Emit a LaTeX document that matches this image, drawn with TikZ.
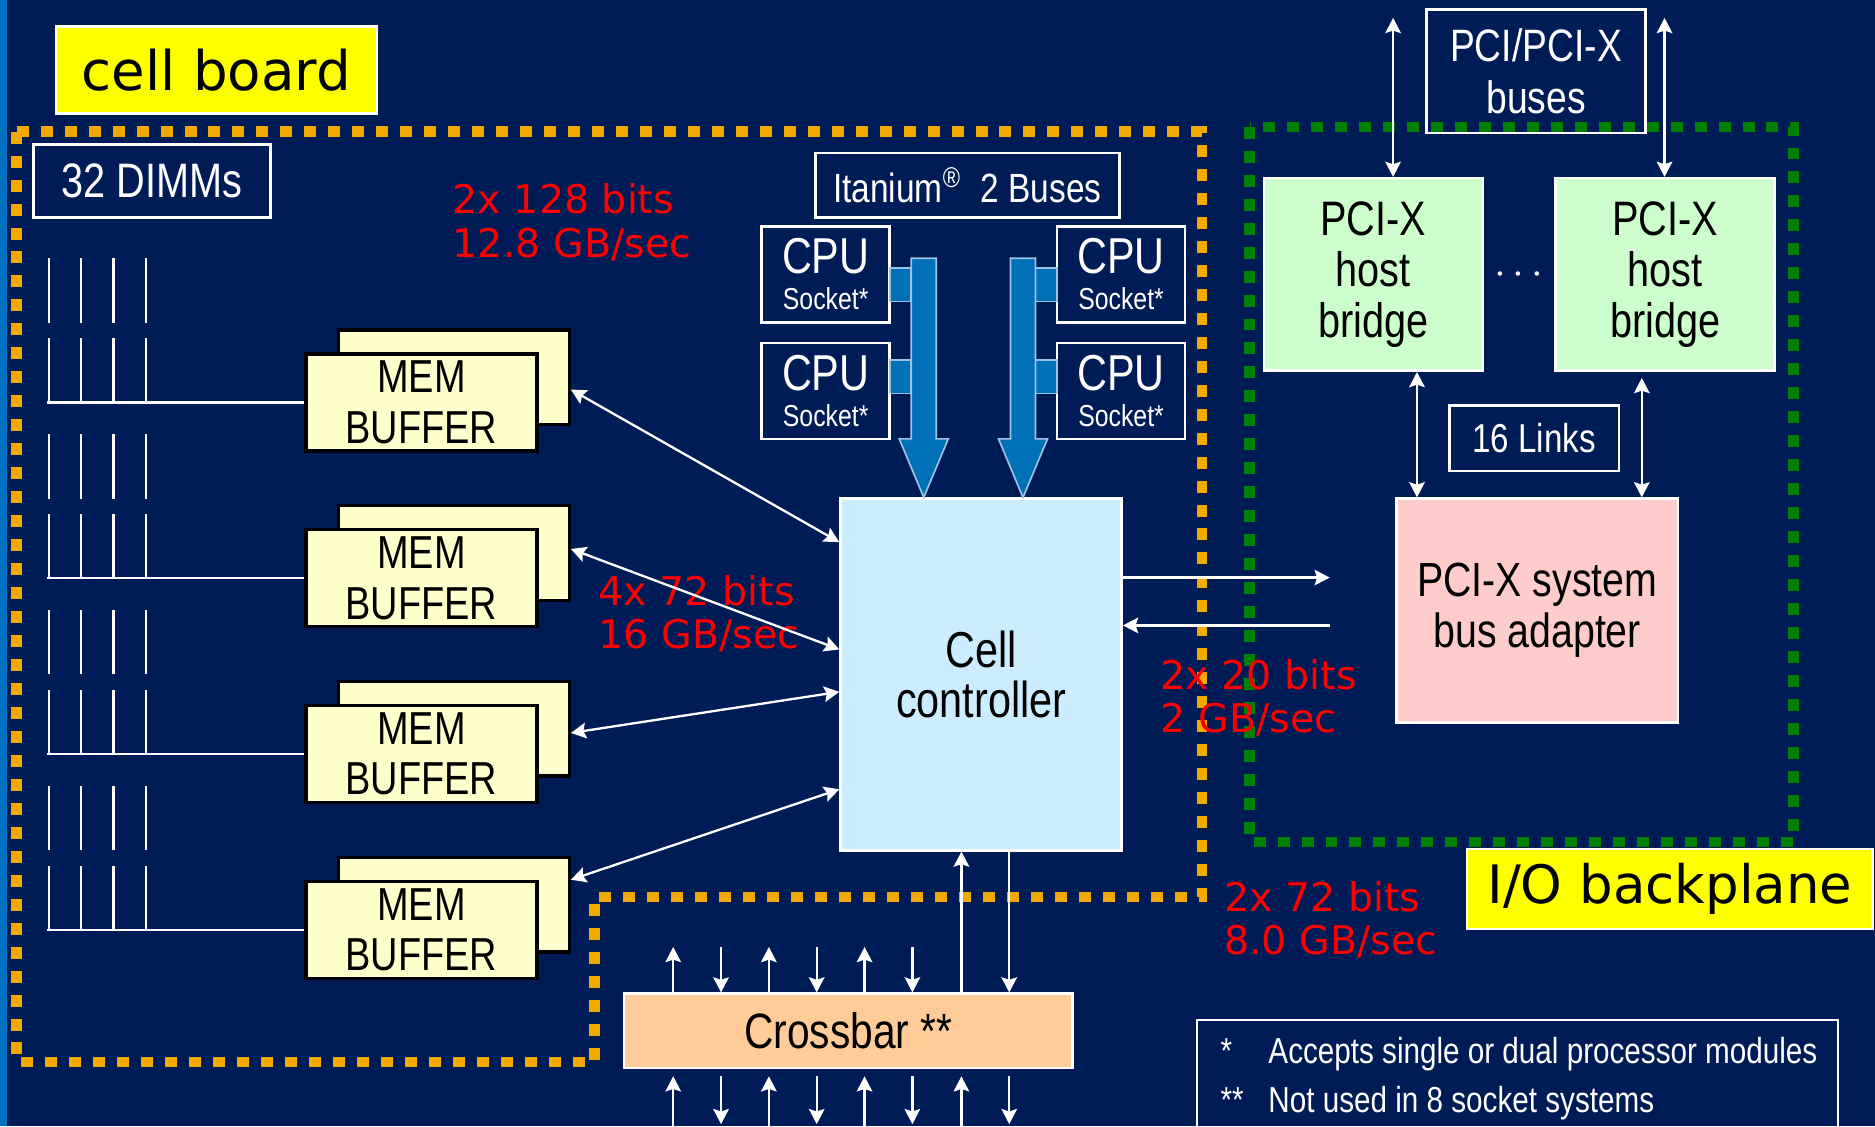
\documentclass[tikz,border=0pt]{standalone}
\usepackage{fontspec}
\setmainfont{Liberation Sans}[FakeStretch=0.82]
\newfontfamily\widefont{DejaVu Sans}
\usetikzlibrary{arrows.meta,calc}
\definecolor{navy}{HTML}{001C56}
\definecolor{stripe}{HTML}{0070C0}
\definecolor{bdorange}{HTML}{F2A900}
\definecolor{bdgreen}{HTML}{008000}
\definecolor{tagyellow}{HTML}{FFFF00}
\definecolor{memfill}{HTML}{FFFFCC}
\definecolor{ccfill}{HTML}{CCECFF}
\definecolor{hbfill}{HTML}{CCFFCC}
\definecolor{adfill}{HTML}{FFCCCC}
\definecolor{cbfill}{HTML}{FFCC99}
\definecolor{ratered}{HTML}{FF0000}
\definecolor{busblue}{HTML}{0070B8}
\definecolor{buslight}{HTML}{9CC3E5}
\newcommand{\setfs}[2]{\fontsize{#1}{#2}\selectfont}

\begin{document}
\begin{tikzpicture}[x=0.01cm,y=-0.01cm,
    lbl/.style={draw=white,line width=0.6pt,text=white,align=center,inner sep=0pt},
    tag/.style={draw=white,line width=0.6pt,fill=tagyellow,text=black,inner sep=0pt},
    cpu/.style={lbl,minimum width=1.07cm,minimum height=0.80cm,font=\setfs{12}{8.6}},
    memb/.style={draw=black,line width=0.8pt,fill=memfill,minimum width=1.93cm,
                 inner sep=0pt,align=center,font=\setfs{11}{12}},
    blk/.style={draw=white,line width=0.6pt,text=black,align=center,inner sep=0pt},
    rate/.style={text=ratered,align=left,anchor=west,inner sep=0pt,font=\widefont\setfs{9.4}{10.3}},
    orbound/.style={draw=bdorange,line width=2.5pt,dash pattern=on 2.85pt off 2.85pt},
    grbound/.style={draw=bdgreen,line width=2.5pt,dash pattern=on 2.85pt off 2.85pt},
    warr/.style={-{Stealth[length=3.6pt,width=3.7pt,inset=0.6pt]},white,line width=0.55pt},
    dwarr/.style={{Stealth[length=3.6pt,width=3.7pt,inset=0.6pt]}-{Stealth[length=3.6pt,width=3.7pt,inset=0.6pt]},
                  white,line width=0.55pt},
    wire/.style={white,line width=0.55pt},
    bus/.style={fill=busblue,draw=buslight,line width=0.4pt}]
  \useasboundingbox (0,0) rectangle (1568,942);
  \fill[navy] (0,0) rectangle (1568,942);
  \fill[stripe] (0,0) rectangle (6,942);
  % board outlines
  \draw[orbound] (14,110) -- (1005,110) -- (1005,750) -- (497,750) -- (497,888) -- (14,888) -- cycle;
  \draw[grbound] (1045,106) rectangle (1500,704);
  % labels
  \node[tag,minimum width=2.68cm,minimum height=0.73cm,font=\widefont\setfs{13}{15}] (cellb) at (181,58.5) {cell board};
  \node[tag,minimum width=3.39cm,minimum height=0.67cm,font=\widefont\setfs{12.6}{15}] (iobp) at (1396.5,743.5) {I/O backplane};
  \node[lbl,minimum width=1.98cm,minimum height=0.61cm,font=\setfs{11.5}{13}] (dimms) at (127,151.5) {32 DIMMs};
  \node[lbl,minimum width=2.54cm,minimum height=0.54cm,font=\setfs{9.7}{11}] (itan) at (809,155)
    {Itanium\textsuperscript{®}\ \ 2 Buses};
  \node[lbl,minimum width=1.83cm,minimum height=1.03cm,font=\setfs{10.8}{12.5}] (pcib) at (1284.5,59.5) {PCI/PCI-X\\buses};
  \node[lbl,minimum width=1.42cm,minimum height=0.55cm,font=\setfs{9.6}{11}] (links) at (1283,366.5) {16 Links};
  % memory side
  \foreach \i/\y in {1/0,2/147,3/294,4/441} {
    \foreach \x in {41,68,95,122} {
      \draw[wire] (\x,216+\y) -- (\x,270+\y);
      \draw[wire] (\x,283+\y) -- (\x,337+\y);
    }
    \node[memb,minimum height=0.79cm] (mb\i) at (379.5,315.5+\y) {};
    \node[memb,minimum height=0.81cm] (mf\i) at (352.5,336.5+\y) {MEM\\BUFFER};
    \draw[wire] (mf\i.west) -- ++(-215.5,0);
  }
  % processors
  \node[cpu] (cpu1) at (690.5,229.5) {CPU\\{\setfs{7.2}{8.6}Socket*}};
  \node[cpu] (cpu2) at (690.5,327) {CPU\\{\setfs{7.2}{8.6}Socket*}};
  \node[cpu] (cpu3) at (937.5,229.5) {CPU\\{\setfs{7.2}{8.6}Socket*}};
  \node[cpu] (cpu4) at (937.5,327) {CPU\\{\setfs{7.2}{8.6}Socket*}};
  \node[blk,fill=ccfill,minimum width=2.35cm,minimum height=2.94cm,font=\setfs{12}{11.7}] (cc) at (820.5,564) {Cell\\controller};
  \draw[bus] (744,224) rectangle (762,252);
  \draw[bus] (744,301) rectangle (762,329);
  \draw[bus] (866,224) rectangle (884,252);
  \draw[bus] (866,301) rectangle (884,329);
  \foreach \c in {772.5,855.5}
    \draw[bus] (\c-10.5,216) -- (\c+10.5,216) -- (\c+10.5,367) -- (\c+20.5,367) -- (\c,416)
      -- (\c-20.5,367) -- (\c-10.5,367) -- cycle;
  % I/O side
  \node[blk,fill=hbfill,minimum width=1.83cm,minimum height=1.61cm,font=\setfs{11.5}{12.2}] (hb1) at (1148.5,229.5) {PCI-X\\host\\bridge};
  \node[blk,fill=hbfill,minimum width=1.83cm,minimum height=1.61cm,font=\setfs{11.5}{12.2}] (hb2) at (1392.5,229.5) {PCI-X\\host\\bridge};
  \node[text=white] (dots) at (1270,230) {$\cdots$};
  \node[blk,fill=adfill,minimum width=2.35cm,minimum height=1.87cm,font=\setfs{11.4}{12.2}] (ad) at (1285.5,510.5) {PCI-X system\\bus adapter};
  \node[blk,fill=cbfill,minimum width=3.75cm,minimum height=0.62cm,font=\setfs{11.8}{13}] (cb) at (709.5,862) {Crossbar **};
  \node[draw=white,line width=0.6pt,minimum width=5.36cm,minimum height=1.1cm] (notes) at (1269,908) {};
  \node[anchor=base west,text=white,inner sep=0pt,font=\setfs{8.6}{10}] (note1) at (1020,889)
    {\makebox[11.4pt][l]{*}Accepts single or dual processor modules};
  \node[anchor=base west,text=white,inner sep=0pt,font=\setfs{8.6}{10}] (note2) at (1020,930)
    {\makebox[11.4pt][l]{**}Not used in 8 socket systems};
  % rates
  \node[rate] (r1) at (378,186) {2x 128 bits\\12.8 GB/sec};
  \node[rate] (r2) at (500,513.5) {4x 72 bits\\16 GB/sec};
  \node[rate] (r3) at (970,583.5) {2x 20 bits\\2 GB/sec};
  \node[rate] (r4) at (1023,769) {2x 72 bits\\8.0 GB/sec};
  % links
  \draw[dwarr] (mb1.-6) -- (cc.137);
  \draw[dwarr] (mb2.2) -- (cc.170);
  \draw[dwarr] (mb3.-2) -- (cc.187);
  \draw[dwarr] (mb4.12) -- (cc.219);
  \coordinate (ioOut) at (1112,483);
  \coordinate (ioIn) at (1112,523);
  \draw[warr] (cc.east |- ioOut) -- (ioOut);
  \draw[warr] (ioIn) -- (cc.east |- ioIn);
  \coordinate (busL) at (1165,15);
  \coordinate (busR) at (1392,15);
  \draw[dwarr] (hb1.north -| busL) -- (busL);
  \draw[dwarr] (hb2.north -| busR) -- (busR);
  \draw[dwarr] (hb1.south -| 1185,0) -- (ad.north -| 1185,0);
  \draw[dwarr] (hb2.south -| 1373,0) ++(0,5) -- (ad.north -| 1373,0);
  \draw[warr] (cb.north -| 804,0) -- (cc.south -| 804,0);
  \draw[warr] (cc.south -| 844,0) -- (cb.north -| 844,0);
  \foreach \x in {563,643,723}
    \draw[warr] (cb.north -| \x,0) -- ++(0,-38);
  \foreach \x in {603,683,763}
    \draw[warr] (cb.north -| \x,0) ++(0,-38) -- ++(0,38);
  \foreach \x in {563,643,723,804}
    \draw[warr] (cb.south -| \x,0) ++(0,50) -- ++(0,-44);
  \foreach \x in {603,683,763,844}
    \draw[warr] (cb.south -| \x,0) ++(0,6) -- ++(0,40);
\end{tikzpicture}
\end{document}
